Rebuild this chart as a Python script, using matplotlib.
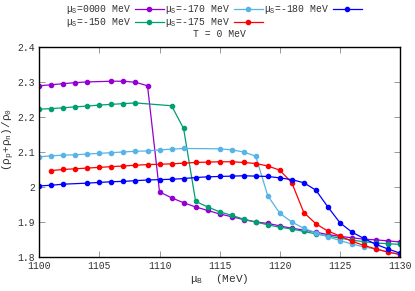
import matplotlib
matplotlib.use("Agg")
import matplotlib.pyplot as plt
import numpy as np

plt.rcParams['font.family'] = ['Liberation Mono', 'DejaVu Sans Mono']
plt.rcParams['mathtext.default'] = 'regular'

# mu_S = 0
x_0 = [1100, 1101, 1102, 1103, 1104, 1106, 1107, 1108, 1109, 1110, 1111, 1112, 1113, 1114,
       1115, 1116, 1117, 1118, 1119, 1120, 1121, 1122, 1123, 1124, 1125, 1126, 1127, 1128, 1129, 1130]
y_0 = [2.288, 2.291, 2.294, 2.297, 2.299, 2.301, 2.301, 2.298, 2.288, 1.985, 1.968, 1.954, 1.942, 1.932,
       1.922, 1.914, 1.906, 1.899, 1.895, 1.888, 1.881, 1.876, 1.870, 1.863, 1.858, 1.854, 1.850, 1.848, 1.845, 1.842]

# mu_S = -150
x_150 = [1100, 1101, 1102, 1103, 1104, 1105, 1106, 1107, 1108, 1111, 1112, 1113, 1114, 1115, 1116,
         1117, 1118, 1119, 1120, 1121, 1122, 1123, 1124, 1125, 1126, 1127, 1128, 1129, 1130]
y_150 = [2.221, 2.223, 2.225, 2.228, 2.230, 2.233, 2.235, 2.237, 2.239, 2.231, 2.166, 1.958, 1.942, 1.928, 1.918,
         1.907, 1.899, 1.891, 1.884, 1.879, 1.872, 1.865, 1.859, 1.853, 1.847, 1.843, 1.839, 1.837, 1.835]

# mu_S = -170
x_170 = [1100, 1101, 1102, 1103, 1104, 1105, 1106, 1107, 1108, 1109, 1110, 1111, 1112, 1115, 1116,
         1117, 1118, 1119, 1120, 1121, 1122, 1123, 1124, 1125, 1126, 1127, 1128, 1129, 1130]
y_170 = [2.085, 2.088, 2.090, 2.091, 2.093, 2.095, 2.097, 2.099, 2.101, 2.102, 2.105, 2.107, 2.109, 2.108, 2.105,
         2.099, 2.087, 1.974, 1.924, 1.899, 1.881, 1.868, 1.857, 1.846, 1.836, 1.828, 1.821, 1.814, 1.807]

# mu_S = -175
x_175 = [1101, 1102, 1103, 1104, 1105, 1106, 1107, 1108, 1109, 1110, 1111, 1112, 1113, 1114, 1115,
         1116, 1117, 1118, 1119, 1120, 1121, 1122, 1123, 1124, 1125, 1126, 1127, 1128, 1129, 1130]
y_175 = [2.046, 2.049, 2.051, 2.053, 2.055, 2.057, 2.059, 2.061, 2.063, 2.064, 2.065, 2.067, 2.069, 2.070, 2.071,
         2.071, 2.069, 2.066, 2.059, 2.047, 2.011, 1.926, 1.894, 1.873, 1.859, 1.844, 1.832, 1.822, 1.813, 1.806]

# mu_S = -180
x_180 = [1100, 1101, 1102, 1104, 1105, 1106, 1107, 1108, 1109, 1110, 1111, 1112, 1113, 1114, 1115,
         1116, 1117, 1118, 1119, 1120, 1121, 1122, 1123, 1124, 1125, 1126, 1127, 1128, 1129, 1130]
y_180 = [2.002, 2.004, 2.007, 2.010, 2.012, 2.014, 2.015, 2.017, 2.019, 2.020, 2.021, 2.023, 2.026, 2.028, 2.029,
         2.030, 2.031, 2.030, 2.029, 2.025, 2.020, 2.011, 1.990, 1.942, 1.897, 1.870, 1.852, 1.835, 1.822, 1.810]

labels = ["μ$_S$=0000 MeV", "μ$_S$=-150 MeV", "μ$_S$=-170 MeV", "μ$_S$=-175 MeV", "μ$_S$=-180 MeV"]
colors = ['#9400d3', '#009e73', '#56b4e9', '#ff0000', '#0000ff']
xticks = [1100, 1105, 1110, 1115, 1120, 1125, 1130]
yticks = [1.8, 1.9, 2.0, 2.1, 2.2, 2.3, 2.4]

txt = '#333333'
fig = plt.figure(figsize=(4.15, 2.91), dpi=100)
ax = fig.add_axes([0.0947, 0.118, 0.8692, 0.722])

series = [(x_0, y_0), (x_150, y_150), (x_170, y_170), (x_175, y_175), (x_180, y_180)]
handles = []
for (xs, ys), c, lab in zip(series, colors, labels):
    h, = ax.plot(xs, ys, '-o', color=c, lw=0.9, ms=3.0, label=lab)
    handles.append(h)

ax.set_xlim(1100, 1130)
ax.set_ylim(1.8, 2.4)
ax.set_xticks(xticks)
ax.set_yticks(yticks)
ax.set_yticklabels([f"{v:g}" for v in yticks])
ax.tick_params(direction='in', length=4, width=0.6, color='#888888', top=True, right=True,
               labelsize=7, labelcolor=txt, pad=3)
for s in ax.spines.values():
    s.set_linewidth(1.0)
    s.set_color('black')

ax.set_xlabel("μ$_B$  (MeV)", fontsize=8, color=txt, labelpad=1)
ax.set_ylabel("(ρ$_p$+ρ$_n$)/ρ$_0$", fontsize=8, color=txt)
ax.yaxis.set_label_coords(-0.062, 0.56)
ax.set_title("T = 0 MeV", fontsize=7, color=txt, pad=7)

fig.legend(handles=handles, labels=labels, ncol=3, loc='upper center', bbox_to_anchor=(0.515, 1.02),
           frameon=False, markerfirst=False, fontsize=7, handlelength=3.0, handletextpad=0.4,
           columnspacing=0.1, labelspacing=0.05, labelcolor=txt)

fig.savefig("out.png", dpi=100)
